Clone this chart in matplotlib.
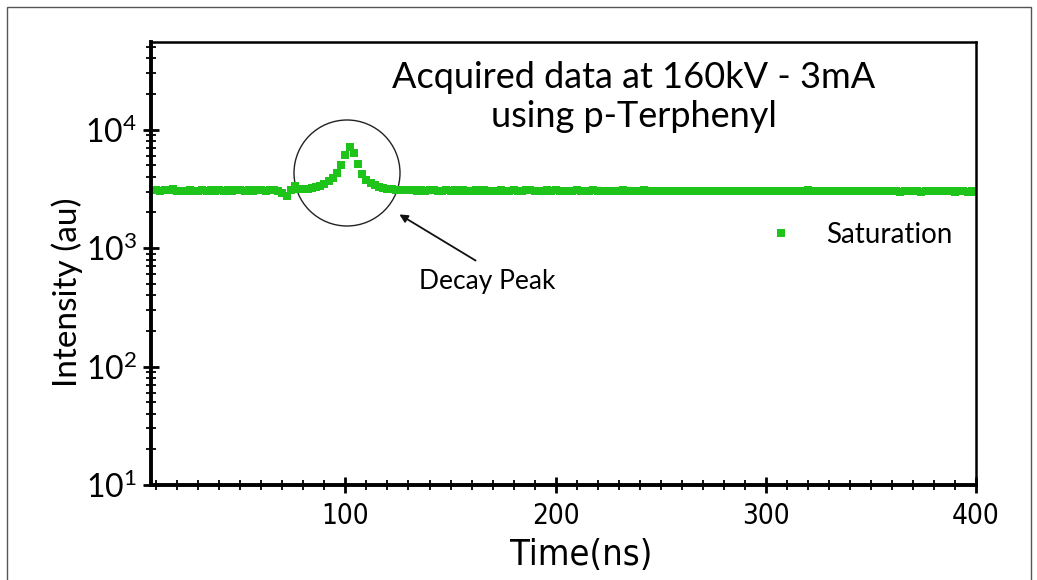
import numpy as np
import matplotlib
matplotlib.use('Agg')
import matplotlib.pyplot as plt
from matplotlib.patches import Ellipse, Rectangle
from matplotlib.ticker import LogLocator, MultipleLocator, FixedLocator

plt.rcParams['font.family'] = ['Lato', 'DejaVu Sans']

# time axis (ns), one point every 2 ns
time_ns = np.arange(10, 401, 2)

# intensity (au)
intensity = [
    3080, 3030, 3070, 3120, 3160, 3050, 3060, 3030, 3080, 3060,
    3050, 3070, 3040, 3080, 3060, 3090, 3050, 3070, 3060, 3080,
    3070, 3050, 3080, 3060, 3090, 3070, 3060, 3080, 3100, 3060,
    2920, 2760, 3080, 3330, 3150, 3130, 3170, 3210, 3270, 3360,
    3480, 3660, 3920, 4350, 5050, 6150, 7150, 6350, 5100, 4250,
    3780, 3520, 3380, 3290, 3220, 3170, 3140, 3110, 3090, 3080,
    3070, 3090, 3060, 3080, 3050, 3070, 3090, 3060, 3050, 3070,
    3060, 3080, 3040, 3070, 3060, 3050, 3080, 3060, 3070, 3040,
    3060, 3050, 3080, 3060, 3040, 3070, 3060, 3050, 3090, 3070,
    3050, 3060, 3040, 3070, 3060, 3100, 3050, 3040, 3060, 3050,
    3070, 3040, 3060, 3050, 3080, 3040, 3060, 3050, 3030, 3060,
    3050, 3070, 3040, 3060, 3030, 3050, 3070, 3040, 3050, 3030,
    3060, 3040, 3050, 3030, 3060, 3040, 3050, 3020, 3040, 3060,
    3030, 3050, 3040, 3020, 3050, 3030, 3040, 3060, 3020, 3040,
    3030, 3050, 3020, 3040, 3030, 3050, 3020, 3060, 3030, 3010,
    3040, 3020, 3030, 3050, 3020, 3070, 3030, 3020, 3040, 3010,
    3030, 3020, 3040, 3010, 3030, 3020, 3050, 3010, 3030, 3020,
    3010, 3030, 3020, 3040, 3010, 3020, 3030, 3000, 3020, 3030,
    3010, 3020, 3000, 3030, 3050, 3020, 3010, 3040, 3020, 3010,
    3000, 3020, 3010, 2990, 3010, 3000,
]

x_ticks = [100, 200, 300, 400]
series_name = 'Saturation'
title_text = 'Acquired data at 160kV - 3mA\nusing p-Terphenyl'

W, H = 1037, 580
fig = plt.figure(figsize=(W / 100, H / 100), dpi=100)
ax = fig.add_axes([151 / W, 1 - 485 / H, (976 - 151) / W, (485 - 42) / H])

green = '#1ec41a'
ax.plot(time_ns, intensity, 's', color=green, markersize=6, markeredgewidth=0,
        label=series_name)

ax.set_yscale('log')
ax.set_xlim(7.5, 400)
ax.set_ylim(10, 5.5e4)

ax.xaxis.set_major_locator(FixedLocator(x_ticks))
ax.xaxis.set_minor_locator(MultipleLocator(10))
ax.yaxis.set_major_locator(LogLocator(base=10, numticks=10))
ax.yaxis.set_minor_locator(LogLocator(base=10, subs=np.arange(2, 10), numticks=20))

ax.tick_params(which='major', direction='inout', length=12, width=2, top=False, right=False)
ax.tick_params(which='minor', direction='inout', length=7, width=1.3, top=False, right=False)
ax.tick_params(axis='y', labelsize=23, pad=4)
ax.tick_params(axis='x', labelsize=20, pad=6)
for lab in ax.get_xticklabels():
    lab.set_family(['DejaVu Sans'])
    lab.set_stretch('condensed')

for side in ['left', 'bottom']:
    ax.spines[side].set_linewidth(2.8)
for side in ['top', 'right']:
    ax.spines[side].set_linewidth(1.8)

ax.set_xlabel('Time(ns)', fontsize=26, family=['DejaVu Sans'], stretch='condensed')
ax.xaxis.set_label_coords((581 - 151) / 825, -(538 - 485) / 443)
ax.set_ylabel('Intensity (au)', fontsize=24)
ax.yaxis.set_label_coords(-(151 - 83) / 825, (485 - 292) / 443)

fig.text(634 / W, 1 - 97 / H, title_text, ha='center', va='center', fontsize=26,
         linespacing=1.25)

leg = ax.legend(loc='center left', bbox_to_anchor=(0.7, 0.565), frameon=False,
                fontsize=20, handletextpad=0.6, markerscale=1.0)

# circle around the decay peak
r = 53
ax.add_patch(Ellipse(((347 - 151) / 825, (485 - 173) / 443), 2 * r / 825, 2 * r / 443,
                     transform=ax.transAxes, fill=False, edgecolor='#222222', lw=1))

# arrow + label
fig.text(487 / W, 1 - 282 / H, 'Decay Peak', ha='center', va='center', fontsize=19)
ax.annotate('', xy=(397 / W, 1 - 213 / H), xytext=(478 / W, 1 - 262 / H),
            xycoords='figure fraction', textcoords='figure fraction',
            arrowprops=dict(arrowstyle='-|>', color='#111111', lw=1.3,
                            mutation_scale=12))

# thin frame around the whole picture
fig.add_artist(Rectangle((7 / W, -0.05), (1031 - 7) / W, 1.05 - 7 / H,
                         transform=fig.transFigure, fill=False,
                         edgecolor='#555555', lw=1))

fig.savefig('out.png', dpi=100)
